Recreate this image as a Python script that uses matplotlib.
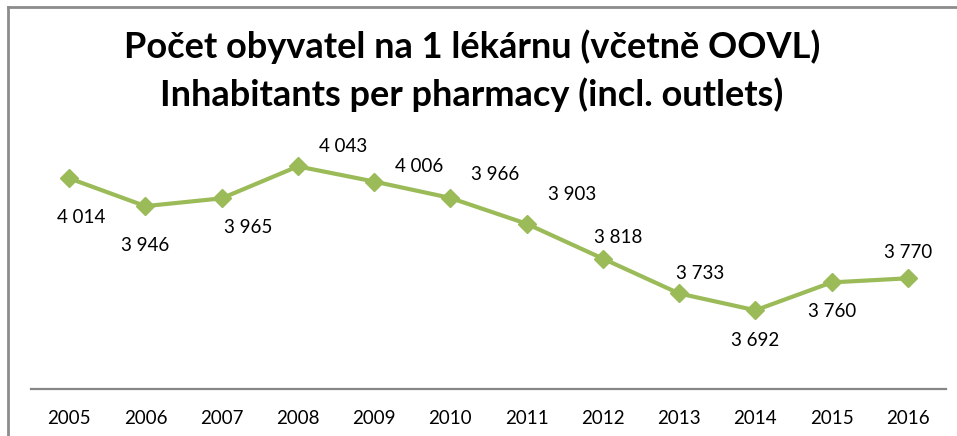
import matplotlib.pyplot as plt
from matplotlib.lines import Line2D

# data
years = ["2005", "2006", "2007", "2008", "2009", "2010",
         "2011", "2012", "2013", "2014", "2015", "2016"]
inhabitants = [4014, 3946, 3965, 4043, 4006, 3966,
               3903, 3818, 3733, 3692, 3760, 3770]

title_cz = "Počet obyvatel na 1 lékárnu (včetně OOVL)"
title_en = "Inhabitants per pharmacy (incl. outlets)"

# label offsets in pixels (dx, dy), like the Excel placement
label_offsets = [(12, -39), (0, -39), (27, -29), (45, 20), (45, 15), (45, 23),
                 (45, 29), (15, 21), (21, 20), (0, -30), (0, -29), (0, 26)]

green = "#9BBB59"
plt.rcParams['font.family'] = ['Lato', 'DejaVu Sans']

fig = plt.figure(figsize=(9.57, 4.36), dpi=100)
ax = fig.add_axes([31/957, 47/436, 915/957, 287/436])

x = list(range(len(years)))
ax.plot(x, inhabitants, color=green, lw=3, marker="D", ms=9, mec=green, mfc=green)

def fmt(v):
    return "{:,}".format(v).replace(",", " ")

for xi, v, (dx, dy) in zip(x, inhabitants, label_offsets):
    ax.annotate(fmt(v), (xi, v), xytext=(dx, dy), textcoords="offset pixels",
                ha="center", va="center", fontsize=13.5, color="#000000")

ax.set_xlim(-0.5, len(years) - 0.5)
ax.set_ylim(3500, 4200)
ax.set_xticks(x)
ax.set_xticklabels(years, fontsize=13.5)
ax.set_yticks([])
ax.tick_params(axis="x", length=0, pad=15)
for s in ["top", "left", "right"]:
    ax.spines[s].set_visible(False)
ax.spines["bottom"].set_color("#868686")
ax.spines["bottom"].set_linewidth(1.6)

fig.text(472/957, 1 - 47/436, title_cz, ha="center", va="center",
         fontsize=26, fontweight="bold")
fig.text(472/957, 1 - 95/436, title_en, ha="center", va="center",
         fontsize=26, fontweight="bold")

# frame of the chart (only top and left edge visible)
fig.add_artist(Line2D([8/957, 8/957], [0, 1 - 7/436], color="#8c8c8c", lw=2))
fig.add_artist(Line2D([8/957, 1], [1 - 7/436, 1 - 7/436], color="#8c8c8c", lw=2))

fig.savefig("out.png", dpi=100)
